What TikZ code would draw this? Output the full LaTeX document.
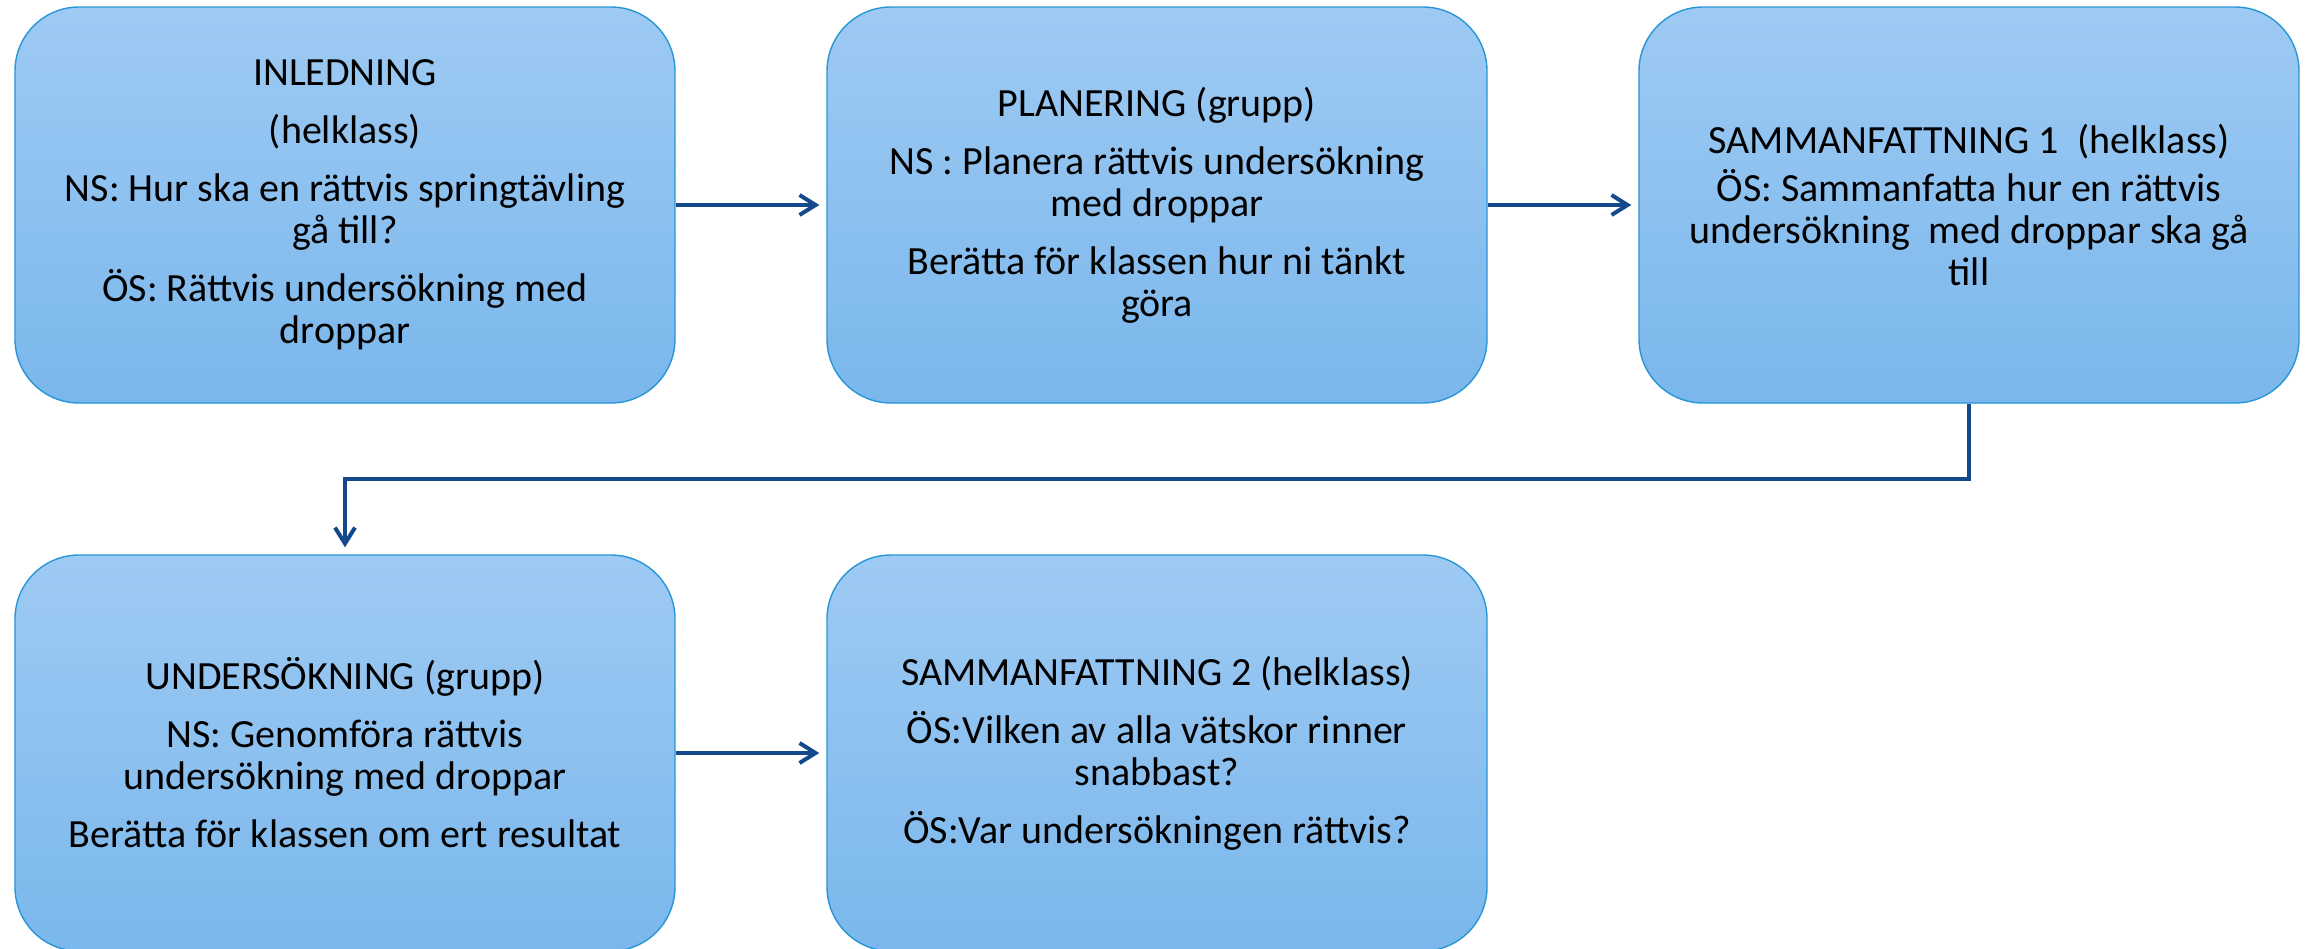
\documentclass[tikz,border=0pt]{standalone}
\usepackage{fontspec}
\setmainfont{Carlito}
\usetikzlibrary{arrows.meta}
\definecolor{boxtop}{RGB}{158,202,243}
\definecolor{boxbot}{RGB}{122,183,236}
\definecolor{boxedge}{RGB}{40,150,215}
\definecolor{arrowblue}{RGB}{20,74,140}
\tikzset{
  stagebox/.style={rectangle, rounded corners=32pt, minimum width=330pt, minimum height=198pt,
    top color=boxtop, bottom color=boxbot, draw=boxedge, line width=0.7pt,
    align=center, inner sep=0pt, text=black, font=\fontsize{20}{21}\selectfont},
  flowarrow/.style={draw=arrowblue, line width=2pt, -{Straight Barb[length=8pt,width=10pt]}}
}
\begin{document}
\begin{tikzpicture}[x=0.5pt,y=-0.5pt]
\useasboundingbox (0,0) rectangle (2312,948);
\fill[white] (0,0) rectangle (2312,948);
\begin{scope}
\clip (0,0) rectangle (2312,948);
\node[stagebox] (b1) at (345,205) {INLEDNING\\[8pt](helklass)\\[8pt]NS: Hur ska en rättvis springtävling\\gå till?\\[8pt]ÖS: Rättvis undersökning med\\droppar};
\node[stagebox] (b2) at (1157,205) {PLANERING (grupp)\\[8pt]NS : Planera rättvis undersökning\\med droppar\\[8pt]Berätta för klassen hur ni tänkt\\göra};
\node[stagebox] (b3) at (1969,205) {SAMMANFATTNING 1\ \ (helklass)\\[3pt]ÖS: Sammanfatta hur en rättvis\\undersökning\ \ med droppar ska gå\\till};
\node[stagebox] (b4) at (345,753) {UNDERSÖKNING (grupp)\\[8pt]NS: Genomföra rättvis\\undersökning med droppar\\[8pt]Berätta för klassen om ert resultat};
\node[stagebox] (b5) at (1157,753) {SAMMANFATTNING 2 (helklass)\\[8pt]ÖS:Vilken av alla vätskor rinner\\snabbast?\\[8pt]ÖS:Var undersökningen rättvis?};
\end{scope}
\coordinate (bend) at (1969,479);
\draw[flowarrow] (b1.east) -- ([xshift=-3.5pt]b2.west);
\draw[flowarrow] (b2.east) -- ([xshift=-3.5pt]b3.west);
\draw[flowarrow] (b3.south) -- (bend) -| ([yshift=3.5pt]b4.north);
\draw[flowarrow] (b4.east) -- ([xshift=-3.5pt]b5.west);
\end{tikzpicture}
\end{document}
